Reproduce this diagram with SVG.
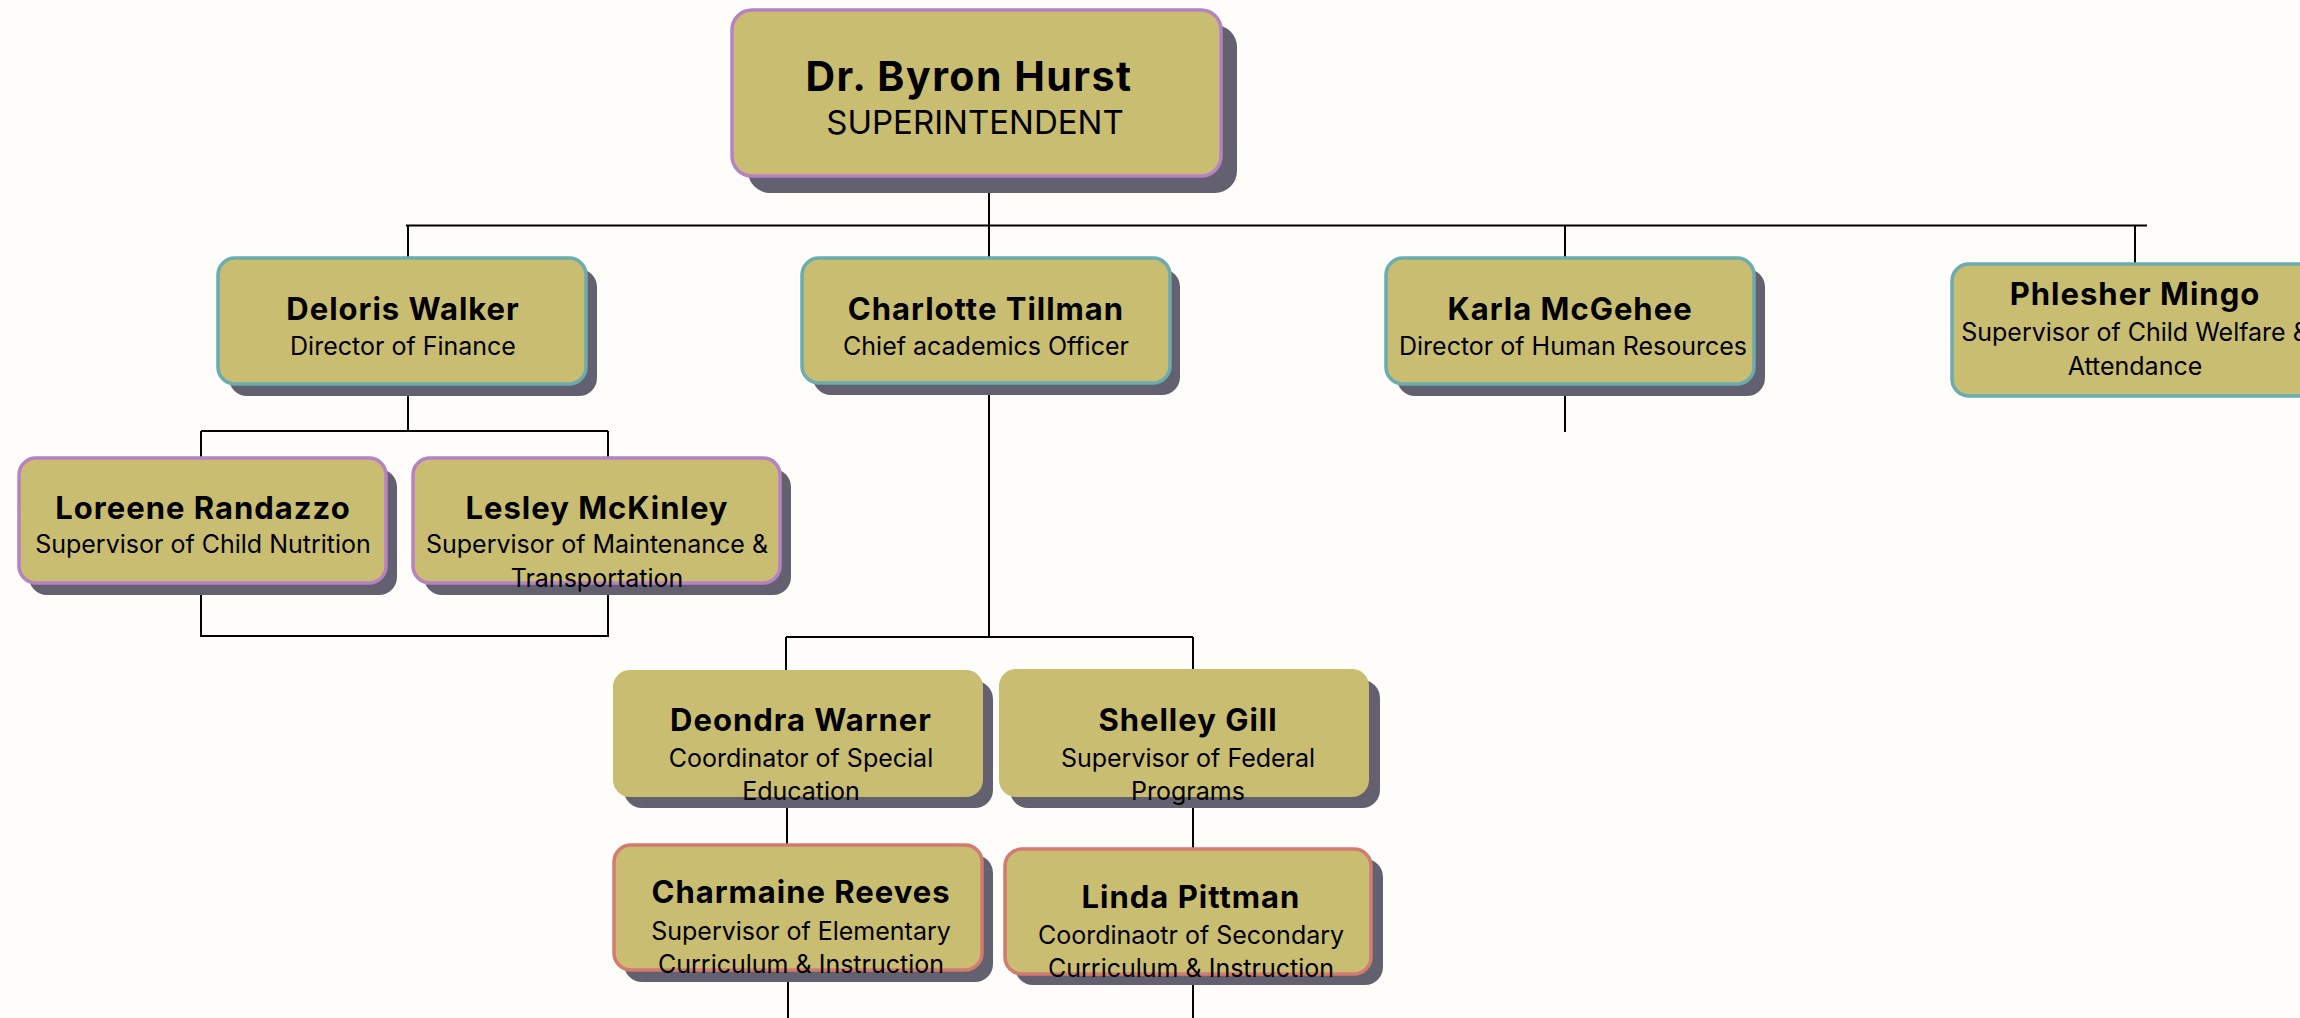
<svg xmlns="http://www.w3.org/2000/svg" width="2300" height="1018" viewBox="0 0 2300 1018">
<style>
.bg{fill:#FFFDF9}
.shadow{fill:#63616F}
.box{fill:#C9BD71}
.purple{stroke:#B682C4;stroke-width:3.5}
.teal{stroke:#6AACAF;stroke-width:3.5}
.red{stroke:#D37B70;stroke-width:3.5}
.name{font-family:Inter,"Liberation Sans",sans-serif;font-weight:700;font-size:31px;letter-spacing:1px;fill:#000;text-anchor:middle}
.sub{font-family:Inter,"Liberation Sans",sans-serif;font-weight:400;font-size:25px;fill:#000;text-anchor:middle}
.conn{stroke:#000;stroke-width:2;fill:none}
</style>
<rect class="bg" x="0" y="0" width="2300" height="1018"/>
<g id="connectors">
<path class="conn" d="M989 193V226M406 225.5H2147"/>
<path class="conn" d="M408 225V257M989 225V257M1565 225V257M2135 225V263"/>
<path class="conn" d="M408 396V431M201 431H608M201 431V457M608 431V457"/>
<path class="conn" d="M201 595V636H608V595"/>
<path class="conn" d="M1565 396V432"/>
<path class="conn" d="M989 395V637M786 637H1193M786 637V670M1193 637V669"/>
<path class="conn" d="M787 808V844M1193 808V848M788 982V1018M1193 985V1018"/>
</g>
<g id="node-superintendent">
<rect class="shadow" x="748" y="25" width="489" height="168" rx="22"/>
<rect class="box purple" x="732" y="10" width="489" height="166" rx="20"/>
<text class="name" x="969" y="91" style="font-size:41px;letter-spacing:1.5px">Dr. Byron Hurst</text>
<text class="sub" x="975" y="134" style="font-size:33px">SUPERINTENDENT</text>
</g>
<g id="node-deloris">
<rect class="shadow" x="229" y="269" width="368" height="127" rx="18"/>
<rect class="box teal" x="218" y="258" width="368" height="126" rx="17"/>
<text class="name" x="403" y="320">Deloris Walker</text>
<text class="sub" x="403" y="355">Director of Finance</text>
</g>
<g id="node-charlotte">
<rect class="shadow" x="813" y="269" width="367" height="126" rx="18"/>
<rect class="box teal" x="802" y="258" width="368" height="125" rx="17"/>
<text class="name" x="986" y="320">Charlotte Tillman</text>
<text class="sub" x="986" y="355">Chief academics Officer</text>
</g>
<g id="node-karla">
<rect class="shadow" x="1397" y="269" width="368" height="127" rx="18"/>
<rect class="box teal" x="1386" y="258" width="368" height="126" rx="17"/>
<text class="name" x="1570" y="320">Karla McGehee</text>
<text class="sub" x="1573" y="355">Director of Human Resources</text>
</g>
<g id="node-phlesher">
<rect class="box teal" x="1952" y="264" width="368" height="132" rx="17"/>
<text class="name" x="2135" y="305">Phlesher Mingo</text>
<text class="sub" x="2135" y="341">Supervisor of Child Welfare &amp;</text>
<text class="sub" x="2135" y="375">Attendance</text>
</g>
<g id="node-loreene">
<rect class="shadow" x="29" y="469" width="368" height="126" rx="18"/>
<rect class="box purple" x="19" y="458" width="367" height="125" rx="17"/>
<text class="name" x="203" y="519">Loreene Randazzo</text>
<text class="sub" x="203" y="553">Supervisor of Child Nutrition</text>
</g>
<g id="node-lesley">
<rect class="shadow" x="424" y="469" width="367" height="126" rx="18"/>
<rect class="box purple" x="413" y="458" width="367" height="125" rx="17"/>
<text class="name" x="597" y="519">Lesley McKinley</text>
<text class="sub" x="597" y="553">Supervisor of Maintenance &amp;</text>
<text class="sub" x="597" y="587">Transportation</text>
</g>
<g id="node-deondra">
<rect class="shadow" x="624" y="681" width="369" height="127" rx="18"/>
<rect class="box" x="613" y="670" width="370" height="127" rx="17"/>
<text class="name" x="801" y="731">Deondra Warner</text>
<text class="sub" x="801" y="767">Coordinator of Special</text>
<text class="sub" x="801" y="800">Education</text>
</g>
<g id="node-shelley">
<rect class="shadow" x="1010" y="680" width="370" height="128" rx="18"/>
<rect class="box" x="999" y="669" width="370" height="128" rx="17"/>
<text class="name" x="1188" y="731">Shelley Gill</text>
<text class="sub" x="1188" y="767">Supervisor of Federal</text>
<text class="sub" x="1188" y="800">Programs</text>
</g>
<g id="node-charmaine">
<rect class="shadow" x="624" y="855" width="369" height="127" rx="18"/>
<rect class="box red" x="614" y="845" width="368" height="125" rx="17"/>
<text class="name" x="801" y="903">Charmaine Reeves</text>
<text class="sub" x="801" y="940">Supervisor of Elementary</text>
<text class="sub" x="801" y="973">Curriculum &amp; Instruction</text>
</g>
<g id="node-linda">
<rect class="shadow" x="1015" y="859" width="368" height="126" rx="18"/>
<rect class="box red" x="1005" y="849" width="366" height="125" rx="17"/>
<text class="name" x="1191" y="908">Linda Pittman</text>
<text class="sub" x="1191" y="944">Coordinaotr of Secondary</text>
<text class="sub" x="1191" y="977">Curriculum &amp; Instruction</text>
</g>
</svg>
